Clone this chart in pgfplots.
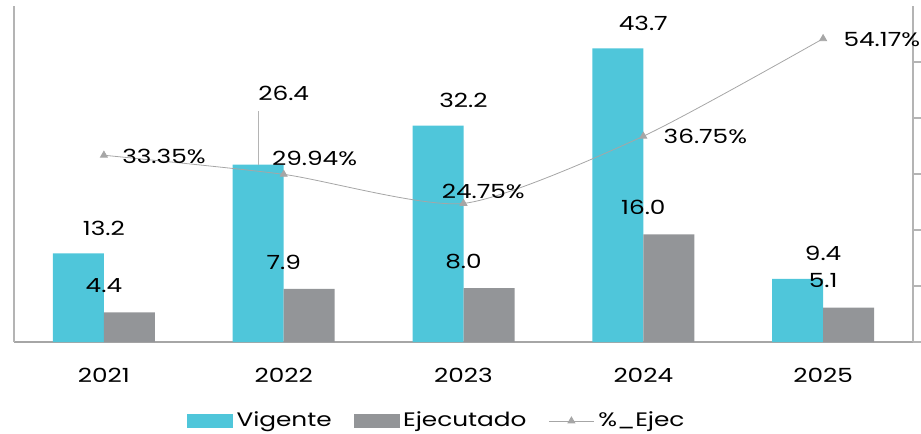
\documentclass[border=0pt]{standalone}
\usepackage{pgfplots}
\usepackage{pgfplotstable}
\pgfplotsset{compat=1.18}
\usepackage{fontspec}
\setmainfont{Poppins}[FakeStretch=1.27]
\definecolor{cvig}{RGB}{79,198,218}
\definecolor{ceje}{RGB}{147,149,152}
\definecolor{cline}{RGB}{166,166,166}
\definecolor{caxis}{RGB}{180,180,180}
\pgfplotsset{/pgf/number format/assume math mode=true}
\newcommand{\fs}{\fontsize{19.5bp}{22bp}\selectfont}
\pgfplotstableread{
x v e p voff px py
0 13.2 4.4 33.35 25 18 -1
1 26.4 7.9 29.94 71 -12 16
2 32.2 8.0 24.75 25 -22 12
3 43.7 16.0 36.75 25 20 0
4 9.4 5.1 54.17 25 20 -1
}\data
\begin{document}
\fs
\begin{tikzpicture}
\useasboundingbox (-14bp,-92bp) rectangle (907bp,342bp);
\begin{axis}[
  at={(0,0)}, anchor=south west,
  scale only axis, width=899bp, height=336bp,
  xmin=-0.5, xmax=4.5, ymin=0, ymax=50,
  axis y line*=left, axis x line*=bottom,
  x axis line style={draw=cline, line width=1.6bp, -},
  y axis line style={draw=caxis, line width=1.2bp, -},
  xtick={0,1,2,3,4}, xticklabels={2021,2022,2023,2024,2025},
  ytick=\empty,
  major tick length=0pt,
  xticklabel style={anchor=center, yshift=-33bp, font=\fs},
  clip=false,
]
\addplot[ybar, bar width=51bp, bar shift=-25.5bp, fill=cvig, draw=none,
  visualization depends on={\thisrow{voff} \as \voff},
  nodes near coords={\pgfmathprintnumber[fixed,precision=1,fixed zerofill]{\pgfplotspointmeta}},
  every node near coord/.append style={anchor=center, yshift=\voff bp, inner sep=0pt, font=\fs, text=black},
  ] table[x=x, y=v] {\data};
\addplot[ybar, bar width=51bp, bar shift=25.5bp, fill=ceje, draw=none,
  nodes near coords={\pgfmathprintnumber[fixed,precision=1,fixed zerofill]{\pgfplotspointmeta}},
  every node near coord/.append style={anchor=center, yshift=27bp, inner sep=0pt, font=\fs, text=black},
  ] table[x=x, y=e] {\data};
\addplot[sharp plot, draw=caxis, line width=1.2bp, mark=none] coordinates {(0.8583,26.4) (0.8583,34.4)};
\end{axis}
\begin{axis}[
  at={(0,0)}, anchor=south west,
  scale only axis, width=899bp, height=336bp,
  xmin=-0.5, xmax=4.5, ymin=0, ymax=60,
  axis x line=none, axis y line*=right,
  y axis line style={draw=caxis, line width=1.2bp, -},
  ytick={0,10,20,30,40,50}, yticklabels={},
  tick align=outside, major tick length=8bp,
  y tick style={draw=caxis, line width=1.2bp},
  clip=false,
  legend style={at={(axis description cs:0.1924,-0.2351)}, anchor=west, draw=none, fill=none,
    legend columns=-1, font=\fs, inner sep=0pt,
    /tikz/every odd column/.append style={column sep=2bp},
    /tikz/every even column/.append style={column sep=20bp}},
]
\addlegendimage{legend image code/.code={\fill[cvig] (0bp,-6.5bp) rectangle (45bp,6.5bp);}}
\addlegendentry{Vigente}
\addlegendimage{legend image code/.code={\fill[ceje] (0bp,-6.5bp) rectangle (45bp,6.5bp);}}
\addlegendentry{Ejecutado}
\addplot[smooth, tension=0.4, draw=cline, line width=0.8bp, mark=triangle*, mark size=4bp,
  mark options={fill=cline, draw=cline},
  legend image code/.code={\draw[cline, line width=0.8bp] (0bp,0bp) -- (45bp,0bp); \fill[cline] (22.5bp,0bp) ++(90:4bp) -- ++(-120:6.93bp) -- ++(0:6.93bp) -- cycle;},
  visualization depends on={\thisrow{px} \as \px},
  visualization depends on={\thisrow{py} \as \py},
  nodes near coords={\pgfmathprintnumber[fixed,precision=2,fixed zerofill]{\pgfplotspointmeta}\%},
  every node near coord/.append style={anchor=west, xshift=\px bp, yshift=\py bp, inner sep=0pt, font=\fs, text=black},
  ] table[x=x, y=p] {\data};
\addlegendentry{\%\_Ejec}
\end{axis}
\end{tikzpicture}
\end{document}
